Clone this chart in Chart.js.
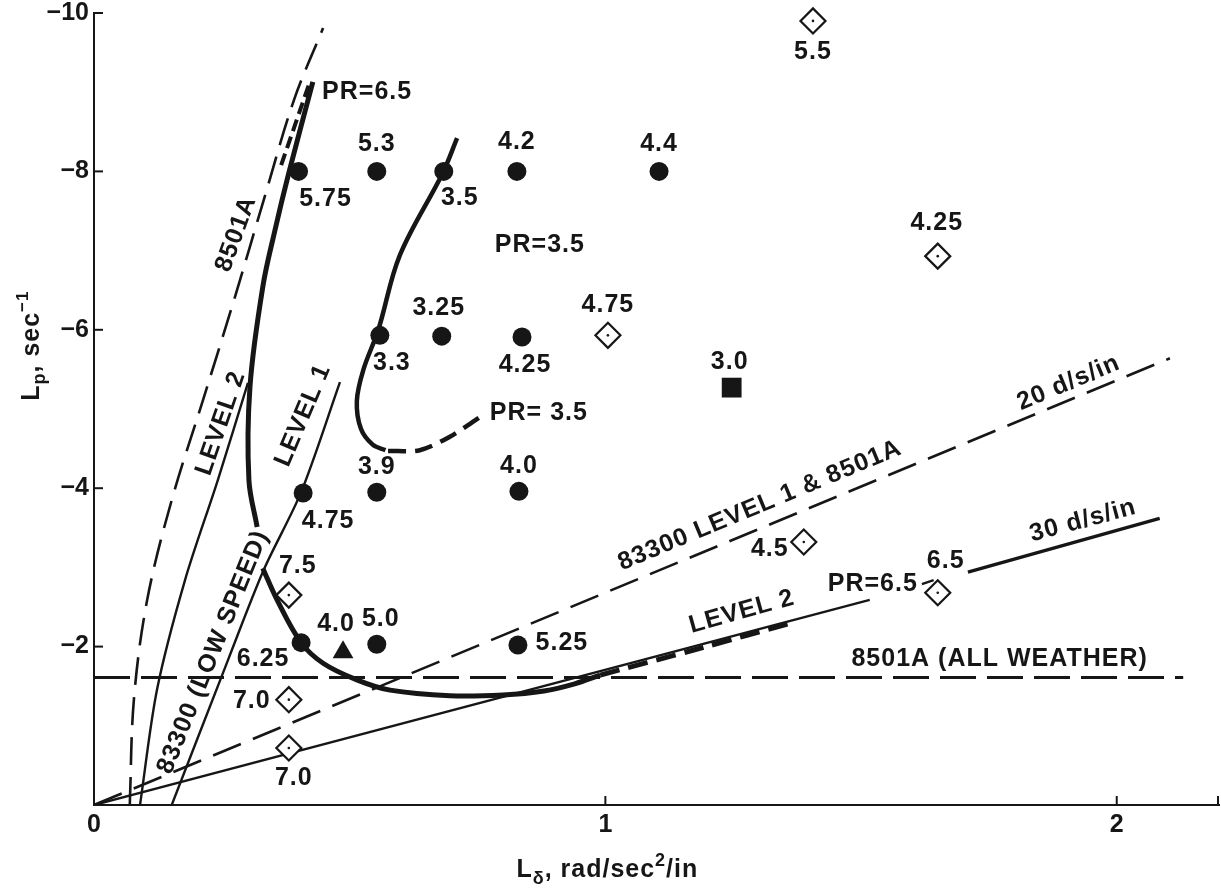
<!DOCTYPE html>
<html>
<head>
<meta charset="utf-8">
<title>Roll control: Lp vs L-delta</title>
<script src="https://cdn.jsdelivr.net/npm/chart.js@4.4.1/dist/chart.umd.min.js"></script>
<style>
  html, body { margin: 0; padding: 0; background: #ffffff; overflow: hidden; }
  #wrap { width: 1221px; height: 892px; position: relative; overflow: hidden; }
  #chart { display: block; }
</style>
</head>
<body>
<div id="wrap"><canvas id="chart"></canvas></div>
<script>
// ---- Test points: L-delta (rad/sec^2/in) vs Lp (sec^-1), with pilot ratings ----
const circleLd = [0.400, 0.553, 0.684, 0.827, 1.105, 0.559, 0.680, 0.837, 0.409, 0.553, 0.831, 0.405, 0.553, 0.829];
const circleLp = [-8.00, -8.00, -8.00, -8.00, -8.00, -5.93, -5.92, -5.91, -3.94, -3.95, -3.96, -2.05, -2.03, -2.02];
const circleRatings = ['5.75', '5.3', '3.5', '4.2', '4.4', '3.3', '3.25', '4.25', '4.75', '3.9', '4.0', '6.25', '5.0', '5.25'];

const diamondLd = [1.406, 1.650, 1.005, 1.388, 1.650, 0.381, 0.381, 0.381];
const diamondLp = [-9.90, -6.93, -5.93, -3.32, -2.68, -2.65, -1.33, -0.72];
const diamondRatings = ['5.5', '4.25', '4.75', '4.5', '6.5', '7.5', '7.0', '7.0'];

const triangleLd = [0.487];
const triangleLp = [-1.93];
const triangleRatings = ['4.0'];

const squareLd = [1.247];
const squareLp = [-5.27];
const squareRatings = ['3.0'];

// ---- Boundaries ----
const allWeatherLd = [0, 2.13];
const allWeatherLp = [-1.61, -1.61];

const gain20Ld = [0, 2.104];
const gain20Lp = [0, -5.64];

const gain30Ld = [0, 1.517];
const gain30Lp = [0, -2.59];
const gain30UpperLd = [1.709, 2.084];
const gain30UpperLp = [-2.94, -3.62];

const spec8501Ld = [0.070, 0.078, 0.104, 0.152, 0.213, 0.274, 0.332, 0.391, 0.448];
const spec8501Lp = [0, -1.33, -2.59, -3.85, -5.11, -6.38, -7.64, -8.90, -9.81];

const level2Ld = [0.090, 0.123, 0.178, 0.242, 0.301];
const level2Lp = [0, -1.45, -2.84, -4.10, -5.33];

const level1Ld = [0.152, 0.262, 0.332, 0.405, 0.481];
const level1Lp = [0, -1.83, -2.97, -3.95, -5.34];

const pr65UpperLd = [0.428, 0.381, 0.354, 0.330, 0.305, 0.303, 0.319];
const pr65UpperLp = [-9.13, -7.98, -7.26, -6.54, -5.28, -4.10, -3.51];
const pr65TopDashLd = [0.366, 0.420];
const pr65TopDashLp = [-8.08, -9.09];
const pr65LowerLd = [0.330, 0.358, 0.405, 0.448, 0.514, 0.579, 0.696, 0.800, 0.880, 0.940, 0.990];
const pr65LowerLp = [-2.99, -2.59, -2.05, -1.79, -1.58, -1.45, -1.38, -1.39, -1.44, -1.53, -1.64];
const pr65DashLd = [0.990, 1.180, 1.370];
const pr65DashLp = [-1.64, -1.97, -2.31];
const pr65LeaderLd = [1.619, 1.642];
const pr65LeaderLp = [-2.79, -2.84];

const pr35Ld = [0.710, 0.682, 0.598, 0.556, 0.527, 0.514, 0.522, 0.545, 0.570];
const pr35Lp = [-8.42, -7.98, -6.94, -6.00, -5.50, -5.10, -4.75, -4.55, -4.48];
const pr35DashLd = [0.575, 0.637, 0.696, 0.760];
const pr35DashLp = [-4.47, -4.48, -4.65, -4.92];

// ---- Axis ticks ----
const xTicks = [0, 1, 2];
const yTicks = [-10, -8, -6, -4, -2, 0];

// ---- Helpers ----
const INK = '#161616';
const FONT = '"Liberation Sans", Arial, Helvetica, sans-serif';
const pts = (xs, ys) => xs.map((x, i) => ({ x: x, y: ys[i] }));

function curve(xs, ys, opts) {
  return Object.assign({
    data: pts(xs, ys),
    showLine: true,
    pointRadius: 0,
    borderColor: INK,
    borderWidth: 2.4,
    borderCapStyle: 'butt',
    tension: 0,
    fill: false,
    order: 5
  }, opts || {});
}

// label offsets (px) from each marker to its rating text
const circleLabelOffsets = [[27, 28], [0, -27], [16, 27], [0, -29], [0, -27], [12, 28], [-3, -28], [3, 28], [25, 28], [0, -25], [0, -25], [-38, 16], [4, -25], [44, -2]];
const diamondLabelOffsets = [[0, 31], [-1, -33], [0, -30], [-34, 7], [8, -32], [9, -29], [-37, 1], [5, 30]];
const triangleLabelOffsets = [[-7, -28]];
const squareLabelOffsets = [[-2, -26]];

// boundary captions: anchor in data units, rotation in degrees
const captions = [
  { text: 'PR=6.5', x: 0.446, y: -9.00, rot: 0, align: 'left' },
  { text: 'PR=3.5', x: 0.872, y: -7.07, rot: 0 },
  { text: 'PR= 3.5', x: 0.870, y: -4.95, rot: 0 },
  { text: 'PR=6.5', x: 1.523, y: -2.79, rot: 0 },
  { text: '8501A (ALL WEATHER)', x: 1.771, y: -1.84, rot: 0 },
  { text: '83300 LEVEL 1 & 8501A', x: 1.302, y: -3.78, rot: -22.6 },
  { text: '20 d/s/in', x: 1.906, y: -5.33, rot: -22.6 },
  { text: '30 d/s/in', x: 1.934, y: -3.59, rot: -15 },
  { text: 'LEVEL 2', x: 1.267, y: -2.44, rot: -15.5 },
  { text: '8501A', x: 0.278, y: -7.21, rot: -70 },
  { text: 'LEVEL 2', x: 0.248, y: -4.82, rot: -71 },
  { text: 'LEVEL 1', x: 0.409, y: -4.92, rot: -67 },
  { text: '83300 (LOW SPEED)', x: 0.233, y: -1.93, rot: -68 }
];

function drawLabel(ctx, text, x, y, rot, align) {
  ctx.save();
  ctx.translate(x, y);
  if (rot) ctx.rotate(rot * Math.PI / 180);
  ctx.font = 'bold 25px ' + FONT;
  if ('letterSpacing' in ctx) ctx.letterSpacing = '1px';
  ctx.fillStyle = INK;
  ctx.textAlign = align || 'center';
  ctx.textBaseline = 'middle';
  ctx.fillText(text, 0, 0);
  ctx.restore();
}

// rich text with sub/superscripts, laid out along a baseline
function drawRich(ctx, parts, cx, cy, rot) {
  ctx.save();
  ctx.translate(cx, cy);
  if (rot) ctx.rotate(rot * Math.PI / 180);
  if ('letterSpacing' in ctx) ctx.letterSpacing = '1px';
  ctx.fillStyle = INK;
  ctx.textBaseline = 'alphabetic';
  ctx.textAlign = 'left';
  let total = 0;
  const widths = parts.map(p => {
    ctx.font = 'bold ' + (p.size || 25) + 'px ' + FONT;
    const w = ctx.measureText(p.text).width;
    total += w;
    return w;
  });
  let x = -total / 2;
  parts.forEach((p, i) => {
    ctx.font = 'bold ' + (p.size || 25) + 'px ' + FONT;
    ctx.fillText(p.text, x, p.dy || 0);
    x += widths[i];
  });
  ctx.restore();
}

const annotationPlugin = {
  id: 'annotations',
  afterDraw(chart) {
    const ctx = chart.ctx;
    const xs = chart.scales.x, ys = chart.scales.y;
    const area = chart.chartArea;

    // inward tick marks
    ctx.save();
    ctx.strokeStyle = INK;
    ctx.lineWidth = 2;
    yTicks.forEach(v => {
      if (v === 0) return;
      const py = ys.getPixelForValue(v);
      ctx.beginPath(); ctx.moveTo(area.left, py); ctx.lineTo(area.left + 9, py); ctx.stroke();
    });
    xTicks.concat([xs.max]).forEach(v => {
      if (v === 0) return;
      const px = xs.getPixelForValue(v) - (v === xs.max ? 1 : 0);
      ctx.beginPath(); ctx.moveTo(px, area.bottom); ctx.lineTo(px, area.bottom - 9); ctx.stroke();
    });
    ctx.restore();

    // pilot rating labels beside each marker
    const groups = [
      [circleLd, circleLp, circleRatings, circleLabelOffsets],
      [diamondLd, diamondLp, diamondRatings, diamondLabelOffsets],
      [triangleLd, triangleLp, triangleRatings, triangleLabelOffsets],
      [squareLd, squareLp, squareRatings, squareLabelOffsets]
    ];
    groups.forEach(([lx, ly, labels, offs]) => {
      labels.forEach((t, i) => {
        const px = xs.getPixelForValue(lx[i]) + offs[i][0];
        const py = ys.getPixelForValue(ly[i]) + offs[i][1];
        drawLabel(ctx, t, px, py, 0, 'center');
      });
    });

    // boundary captions
    captions.forEach(c => {
      drawLabel(ctx, c.text, xs.getPixelForValue(c.x), ys.getPixelForValue(c.y), c.rot, c.align);
    });

    // axis titles
    drawRich(ctx, [
      { text: 'L' }, { text: 'δ', size: 18, dy: 7 }, { text: ', rad/sec' },
      { text: '2', size: 18, dy: -11 }, { text: '/in' }
    ], xs.getPixelForValue(1) + 2, area.bottom + 72, 0);
    drawRich(ctx, [
      { text: 'L' }, { text: 'p', size: 18, dy: 6 }, { text: ', sec' },
      { text: '−1', size: 17, dy: -11 }
    ], 39, ys.getPixelForValue(-5.8), -90);
  }
};

const datasets = [
  // markers (drawn on top)
  { data: pts(diamondLd, diamondLp), pointStyle: 'circle', pointRadius: 1.3, backgroundColor: INK, borderWidth: 0, order: 0, clip: false },
  { data: pts(diamondLd, diamondLp), pointStyle: 'rectRot', pointRadius: 12.5, backgroundColor: '#ffffff', borderColor: INK, borderWidth: 2.2, order: 1, clip: false },
  { data: pts(circleLd, circleLp), pointStyle: 'circle', pointRadius: 9.5, backgroundColor: INK, borderWidth: 0, order: 1, clip: false },
  { data: pts(triangleLd, triangleLp), pointStyle: 'triangle', pointRadius: 12, backgroundColor: INK, borderWidth: 0, order: 1, clip: false },
  { data: pts(squareLd, squareLp), pointStyle: 'rect', pointRadius: 14, backgroundColor: INK, borderWidth: 0, order: 1, clip: false },

  // boundaries
  curve(allWeatherLd, allWeatherLp, { borderWidth: 2.8, borderDash: [36, 11] }),
  curve(gain20Ld, gain20Lp, { borderWidth: 2.6, borderDash: [30, 13] }),
  curve(gain30Ld, gain30Lp, { borderWidth: 2.4 }),
  curve(gain30UpperLd, gain30UpperLp, { borderWidth: 3.4 }),
  curve(spec8501Ld, spec8501Lp, { borderWidth: 2.6, borderDash: [28, 12], tension: 0.35 }),
  curve(level2Ld, level2Lp, { borderWidth: 2.4, tension: 0.3 }),
  curve(level1Ld, level1Lp, { borderWidth: 2.4, tension: 0.3 }),
  curve(pr65UpperLd, pr65UpperLp, { borderWidth: 5, tension: 0.35 }),
  curve(pr65TopDashLd, pr65TopDashLp, { borderWidth: 4, borderDash: [12, 6] }),
  curve(pr65LowerLd, pr65LowerLp, { borderWidth: 5, tension: 0.35 }),
  curve(pr65DashLd, pr65DashLp, { borderWidth: 5, borderDash: [20, 9], tension: 0.2 }),
  curve(pr65LeaderLd, pr65LeaderLp, { borderWidth: 2.4 }),
  curve(pr35Ld, pr35Lp, { borderWidth: 4.5, tension: 0.35 }),
  curve(pr35DashLd, pr35DashLp, { borderWidth: 4.5, borderDash: [18, 9], tension: 0.3 })
];

const tickFont = { family: FONT, size: 25, weight: 'bold', lineHeight: 1 };

new Chart(document.getElementById('chart'), {
  type: 'scatter',
  data: { datasets: datasets },
  options: {
    responsive: true,
    maintainAspectRatio: false,
    animation: false,
    events: [],
    layout: { autoPadding: false, padding: { top: 13, right: 2, left: 0, bottom: 0 } },
    plugins: { legend: { display: false }, tooltip: { enabled: false }, title: { display: false } },
    scales: {
      x: {
        type: 'linear',
        min: 0,
        max: 2.2,
        grid: { display: false, drawTicks: false },
        border: { display: true, color: INK, width: 2 },
        ticks: {
          stepSize: 1,
          includeBounds: false,
          padding: 8,
          color: INK,
          font: tickFont,
          maxRotation: 0,
          callback: v => (xTicks.includes(v) ? String(v) : '')
        },
        afterFit: s => { s.height = 87; s.paddingLeft = 0; s.paddingRight = 0; }
      },
      y: {
        type: 'linear',
        min: -10,
        max: 0,
        reverse: true,
        grid: { display: false, drawTicks: false },
        border: { display: true, color: INK, width: 2 },
        ticks: {
          stepSize: 2,
          padding: 5,
          color: INK,
          font: tickFont,
          callback: v => (v === 0 ? '' : '−' + Math.abs(v))
        },
        afterFit: s => { s.width = 94; s.paddingTop = 0; s.paddingBottom = 0; }
      }
    }
  },
  plugins: [annotationPlugin]
});
</script>
</body>
</html>
